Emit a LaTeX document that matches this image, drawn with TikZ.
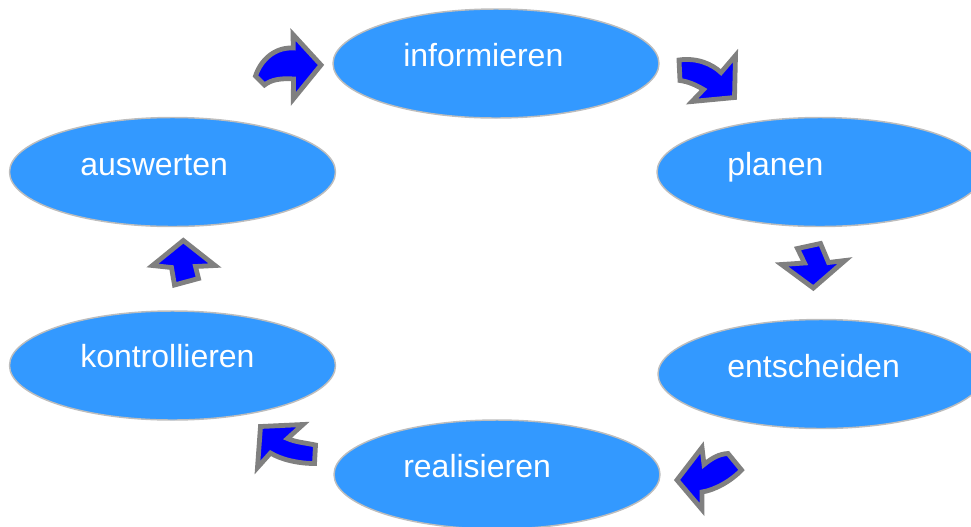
\documentclass[tikz,border=0pt]{standalone}
\usepackage{fontspec}
\setmainfont{Liberation Sans}
\usetikzlibrary{shapes.geometric}
\definecolor{ellfill}{HTML}{3399FF}
\definecolor{ellline}{HTML}{BDBDBD}
\definecolor{arrfill}{HTML}{0000FF}
\definecolor{arrline}{HTML}{808080}
\tikzset{
  stage/.style={ellipse, fill=ellfill, draw=ellline, line width=1.1pt,
    minimum width=244.5pt, minimum height=81.75pt, inner sep=0pt, outer sep=0pt},
  stagetext/.style={anchor=base west, text=white, font=\fontsize{24}{28}\selectfont, inner sep=0pt},
  blockarrow/.style={fill=arrfill, draw=arrline, line width=3.6pt, line join=miter}
}
\begin{document}
\begin{tikzpicture}[x=0.75pt,y=-0.75pt]
\useasboundingbox (0,0) rectangle (971,526);
% ellipses
\node[stage] (inf) at (496,63.5) {};
\node[stage] (pla) at (820,172) {};
\node[stage] (ent) at (821,374) {};
\node[stage] (rea) at (497,474.5) {};
\node[stage] (kon) at (172.5,365.5) {};
\node[stage] (aus) at (172.5,172) {};
% texts
\node[stagetext] (tinf) at (403,66) {informieren};
\node[stagetext] (tpla) at (727,175) {planen};
\node[stagetext] (tent) at (727,377) {entscheiden};
\node[stagetext] (trea) at (403,477) {realisieren};
\node[stagetext] (tkon) at (80,367.5) {kontrollieren};
\node[stagetext] (taus) at (80,175) {auswerten};
% arrow 1: auswerten -> informieren
\draw[blockarrow] (321,65) -- (293,34.5) -- (293.3,48)
  .. controls (275,47) and (261,59.5) .. (255.5,76)
  -- (264.5,85)
  .. controls (271,79.5) and (282,78) .. (293.5,79)
  -- (293.3,99) -- cycle;
% arrow 2: informieren -> planen
\draw[blockarrow] (679,60)
  .. controls (697,57.5) and (712,64) .. (721,72.5)
  -- (735.5,55.5) -- (734.5,97.5) -- (692,101.5) -- (703.5,89.5)
  .. controls (696,85) and (688,81.5) .. (680,80.5) -- cycle;
% arrow 3: planen -> entscheiden
\draw[blockarrow] (797.5,248.5) -- (820.5,243.5) -- (828.5,262.5)
  -- (845,260.5) -- (813.3,288) -- (781.5,264.5) -- (804.5,263) -- cycle;
% arrow 4: entscheiden -> realisieren
\draw[blockarrow] (677,480) -- (702,447.5) -- (704,464.5)
  .. controls (712,458) and (719,454) .. (728,453.5)
  -- (741.5,470)
  .. controls (731,481) and (715,490) .. (702,492)
  -- (702,509.5) -- cycle;
% arrow 5: realisieren -> kontrollieren
\draw[blockarrow] (260.5,426.5) -- (303,424.5) -- (287.5,438.5)
  .. controls (295,442) and (306,443) .. (315.5,445)
  -- (314.5,463.5)
  .. controls (297,463.5) and (280,459) .. (270.5,453)
  -- (257.5,467.5) -- cycle;
% arrow 6: kontrollieren -> auswerten
\draw[blockarrow] (183.3,240.5) -- (215,265.5) -- (195.5,266.5)
  -- (198.5,278.5) -- (174.5,285) -- (171.5,267.5) -- (152.5,265.5) -- cycle;
\end{tikzpicture}
\end{document}
